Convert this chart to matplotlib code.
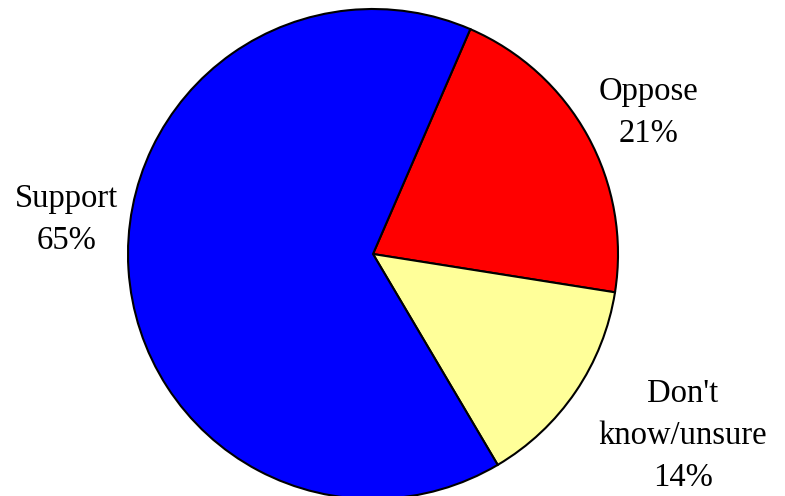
import matplotlib
matplotlib.use('Agg')
import matplotlib.pyplot as plt

labels = ["Oppose", "Don't\nknow/unsure", "Support"]
shares = [21, 14, 65]
colors = ['#ff0000', '#ffff99', '#0000ff']

# label centres, in pie radius units from the centre
label_pos = [(1.125, 0.576), (1.265, -0.742), (-1.25, 0.14)]

fig = plt.figure(figsize=(7.85, 4.96), dpi=100)
ax = fig.add_axes([0, 0, 1, 1])

ax.pie(shares, colors=colors, startangle=66.6, counterclock=False,
       wedgeprops={'edgecolor': 'black', 'linewidth': 1.5})

for name, val, (x, y) in zip(labels, shares, label_pos):
    ax.text(x, y, '{}\n{}%'.format(name, val), ha='center', va='center',
            fontsize=23.5, family='Liberation Serif', linespacing=1.47)

# centre at (373, 254) px, radius 245 px
r = 245.0
ax.set_xlim(-373 / r, (785 - 373) / r)
ax.set_ylim(-(496 - 254) / r, 254 / r)
ax.set_aspect('auto')
ax.axis('off')

fig.savefig('out.png', dpi=100)
